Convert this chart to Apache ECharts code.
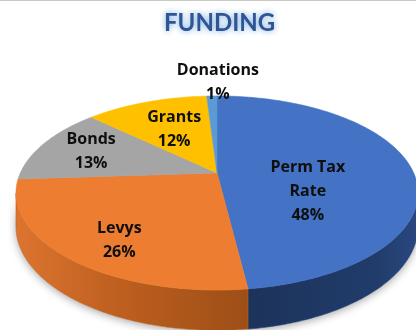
<!DOCTYPE html>
<html>
<head>
<meta charset="utf-8">
<script src="https://cdn.jsdelivr.net/npm/echarts@6/dist/echarts.min.js"></script>
<style>
  html, body { margin: 0; padding: 0; background: #ffffff; }
  #chart { width: 416px; height: 330px; }
</style>
</head>
<body>
<div id="chart"></div>
<script>
// Funding sources (percent of total)
const categories = ['Perm Tax Rate', 'Levys', 'Bonds', 'Grants', 'Donations'];
const labelNames = ['Perm Tax\nRate', 'Levys', 'Bonds', 'Grants', 'Donations'];
const values = [48, 26, 13, 12, 1];

// Slice styling
const topColors = ['#4472C4', '#ED7D31', '#A5A5A5', '#FFC000', '#5B9BD5'];
const sideStops = [
  [[0, '#1c335a'], [0.75, '#213c6b'], [1, '#2a4880']],
  [[0, '#dd7430'], [0.45, '#bd5f1f'], [1, '#9d4e17']],
  [[0, '#8a8a8a'], [1, '#707070']],
  [[0, '#d9a300'], [1, '#b38600']],
  [[0, '#4a82b8'], [1, '#3b6c9c']]
];
// Label placement: fraction of radius along the slice's middle angle, plus pixel nudges
const labelRadius = [0.45, 0.70, 0.72, 0.58, 1.0];
const labelNudgeX = [2, 0, 0, 0, 5];
const labelNudgeY = [21, 11, 0, 0, -14];

// Tilted-disc projection parameters
const CX = 217, CY = 173, RX = 196.7, RY = 92.9, PERSP = 0.206, DEPTH = 32;
const silRight = 180 - Math.acos(PERSP) * 180 / Math.PI;   // side wall visible from here...
const silLeft = 360 - silRight;                             // ...to here

function proj(r, deg, h) {
  const t = deg * Math.PI / 180;
  const u = r * Math.sin(t), v = -r * Math.cos(t);
  const s = 1 / (1 - PERSP * v);
  return [CX + RX * u * s, CY + (RY * v + h * DEPTH) * s];
}
function arc(a, b, h) {
  const pts = [];
  const n = Math.max(2, Math.ceil((b - a) / 0.75));
  for (let i = 0; i <= n; i++) pts.push(proj(1, a + (b - a) * i / n, h));
  return pts;
}

const total = values.reduce((s, v) => s + v, 0);
const starts = [];
values.reduce((acc, v) => { starts.push(acc); return acc + v; }, 0);

function renderItem(params, api) {
  const i = params.dataIndex;
  const val = api.value(0);
  const a = starts[i] / total * 360;
  const b = a + val / total * 360;
  const children = [];

  // soft shadow under the disc (drawn once)
  if (i === 0) {
    const outline = arc(silRight, silLeft, 0).concat(arc(silRight, silLeft, 1).reverse());
    children.push({
      type: 'polygon', z2: 0,
      shape: { points: outline },
      style: { fill: '#ffffff', shadowBlur: 8, shadowOffsetY: 2, shadowColor: 'rgba(0,0,0,0.35)' }
    });
  }

  // side wall
  const sa = Math.max(a, silRight), sb = Math.min(b, silLeft);
  if (sa < sb) {
    const pts = arc(sa, sb, 0).concat(arc(sa, sb, 1).reverse());
    const xs = pts.map(p => p[0]);
    const x0 = Math.min(...xs), x1 = Math.max(...xs);
    const stops = sideStops[i].map(s => ({ offset: s[0], color: s[1] }));
    children.push({
      type: 'polygon', z2: 2,
      shape: { points: pts },
      style: {
        fill: new echarts.graphic.LinearGradient(x0, 0, x1, 0, stops, true),
        stroke: sideStops[i][Math.floor(sideStops[i].length / 2)][1], lineWidth: 0.6
      }
    });
  }

  // top face
  const topPts = [proj(0, 0, 0)].concat(arc(a, b, 0));
  children.push({
    type: 'polygon', z2: 10,
    shape: { points: topPts },
    style: { fill: topColors[i], stroke: topColors[i], lineWidth: 0.6 }
  });

  // data label
  const mid = (a + b) / 2;
  const p = proj(labelRadius[i], mid, 0);
  const pct = Math.round(val / total * 100) + '%';
  children.push({
    type: 'text', z2: 30,
    x: p[0] + 1 + labelNudgeX[i], y: p[1] + labelNudgeY[i],
    style: {
      text: labelNames[i] + '\n' + pct,
      fill: '#0f0f0f',
      fontFamily: '"Open Sans"',
      fontWeight: 'bold',
      fontSize: 16,
      lineHeight: 24,
      align: 'center',
      verticalAlign: 'middle'
    }
  });

  return { type: 'group', children: children };
}

const chart = echarts.init(document.getElementById('chart'), null, { renderer: 'canvas' });
chart.setOption({
  backgroundColor: '#ffffff',
  animation: false,
  title: {
    text: 'FUNDING',
    left: 159,
    top: 6,
    textStyle: {
      fontFamily: 'Lato',
      fontWeight: 'bold',
      fontSize: 24,
      color: '#2f5597',
      textShadowColor: 'rgba(91,155,213,0.9)',
      textShadowBlur: 6
    }
  },
  graphic: [{
    type: 'line', silent: true,
    shape: { x1: 0, y1: 0.5, x2: 416, y2: 0.5 },
    style: { stroke: '#c8c8c8', lineWidth: 1 }
  }],
  series: [{
    type: 'custom',
    coordinateSystem: 'none',
    silent: true,
    renderItem: renderItem,
    data: values.map((v, i) => ({ name: categories[i], value: [v] }))
  }]
});
</script>
</body>
</html>
